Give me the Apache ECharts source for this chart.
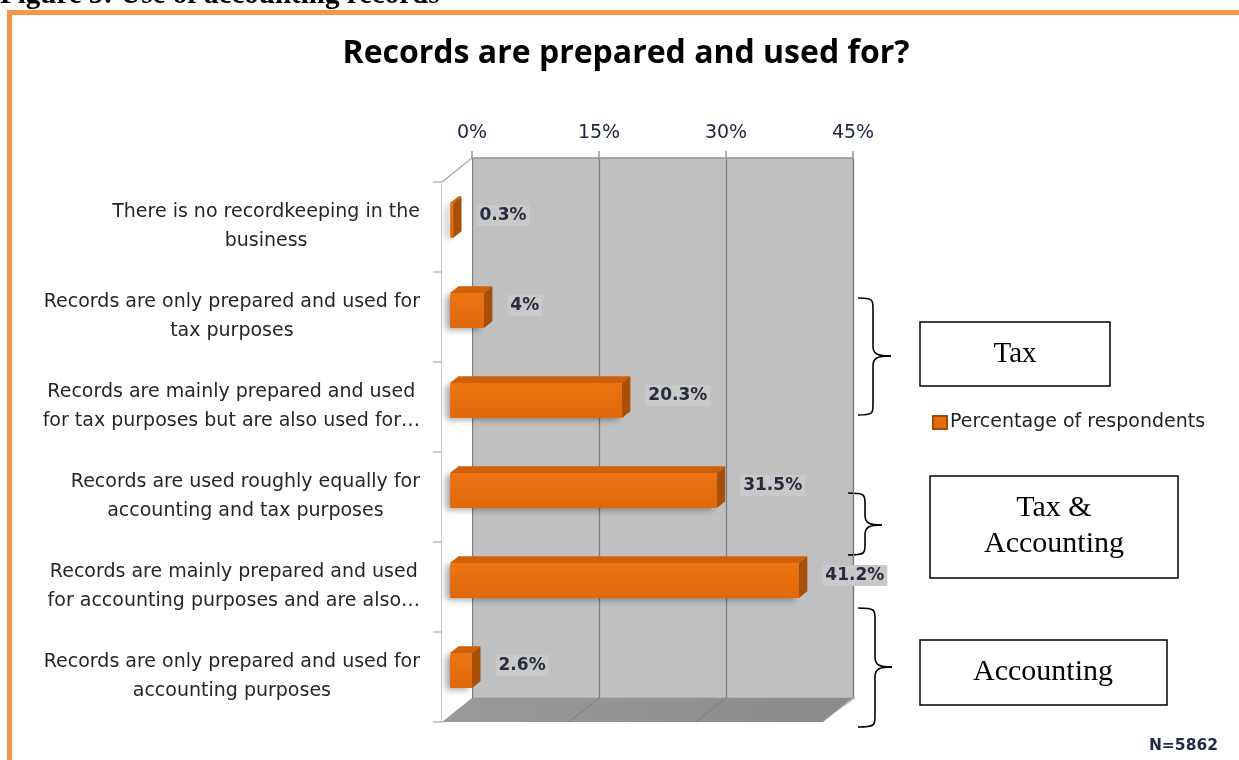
<!DOCTYPE html>
<html>
<head>
<meta charset="utf-8">
<script src="https://cdn.jsdelivr.net/npm/echarts@6/dist/echarts.min.js"></script>
<style>
html,body{margin:0;padding:0;background:#fff;}
#chart{width:1239px;height:760px;}
</style>
</head>
<body>
<div id="chart"></div>
<script>
// ---------------- data ----------------
const categories = [
  "There is no recordkeeping in the\nbusiness",
  "Records are only prepared and used for\ntax purposes",
  "Records are mainly prepared and used\nfor tax purposes but are also used for…",
  "Records are used roughly equally for\naccounting and tax purposes",
  "Records are mainly prepared and used\nfor accounting purposes and are also…",
  "Records are only prepared and used for\naccounting purposes"
];
const values = [0.3, 4, 20.3, 31.5, 41.2, 2.6];
const seriesName = "Percentage of respondents";
const axisMin = 0, axisMax = 45, axisStep = 15;
const chartTitle = "Records are prepared and used for?";
const figureCaption = "Figure 5: Use of accounting records";
const groupLabels = ["Tax", "Tax &\nAccounting", "Accounting"];
const sampleNote = "N=5862";

// ---------------- layout ----------------
const front = {left: 442, top: 182, width: 381, height: 540};
const back  = {left: 472, top: 158, width: 381, height: 540};
const DX = back.left - front.left, DY = back.top - front.top;

const catFont = '19px "DejaVu Sans"';
const measureCtx = document.createElement('canvas').getContext('2d');
function blockWidth(text) {
  measureCtx.font = catFont;
  return Math.max(...text.split('\n').map(l => measureCtx.measureText(l).width));
}
function lin(x2, y2, stops) {
  return {type: 'linear', x: 0, y: 0, x2: x2, y2: y2,
    colorStops: stops.map(s => ({offset: s[0], color: s[1]})), global: false};
}

const chart = echarts.init(document.getElementById('chart'), null, {renderer: 'canvas'});

function renderDecor(params, api) {
  const xs = [];
  for (let v = axisMin; v <= axisMax; v += axisStep) xs.push(v);
  const cs = params.coordSys;
  const L = cs.x, T = cs.y, R = cs.x + cs.width, B = cs.y + cs.height;
  const children = [];
  children.push({type: 'polygon', shape: {points: [[L, T], [L + DX, T + DY], [L + DX, B + DY], [L, B]]},
    style: {fill: '#ffffff'}});
  children.push({type: 'line', shape: {x1: L, y1: T, x2: L + DX, y2: T + DY}, style: {stroke: '#a6a6a6', lineWidth: 1.2}});
  children.push({type: 'polygon', shape: {points: [[L, B], [R, B], [R + DX, B + DY], [L + DX, B + DY]]},
    style: {fill: lin(1, 0, [[0, '#9a9a9a'], [1, '#8a8a8a']])}});
  children.push({type: 'polygon', shape: {points: [[R, B], [R + DX, B + DY], [R + DX + 3, B + DY], [R + 3, B - 3]]},
    style: {fill: '#bdbdbd'}});
  xs.forEach(v => {
    const p = api.coord([v, 0]);
    if (v > axisMin && v < axisMax) {
      children.push({type: 'line', shape: {x1: p[0], y1: B, x2: p[0] + DX, y2: B + DY}, style: {stroke: '#7c7c7c', lineWidth: 1}});
    }
  });
  return {type: 'group', children: children};
}

function renderBar(params, api) {
  const v = api.value(0), c = api.value(1);
  const p0 = api.coord([0, c]), p1 = api.coord([v, c]);
  const band = api.size([0, 1])[1];
  const h = band * 0.39;
  const fx = DX * 0.27, fy = DY * 0.27;
  const ddx = DX * 0.28, ddy = DY * 0.28;
  const x0 = p0[0] + fx, x1 = Math.max(p1[0] + fx, x0 + 3), yc = p0[1] + fy;
  const yt = yc - h / 2, yb = yc + h / 2;
  return {type: 'group', children: [
    {type: 'rect', shape: {x: x0, y: yt, width: x1 - x0, height: h, r: 1},
      style: {fill: lin(0, 1, [[0, '#ec7412'], [1, '#e0680a']]),
        shadowBlur: 6, shadowColor: 'rgba(0,0,0,0.35)', shadowOffsetX: -4, shadowOffsetY: 2}},
    {type: 'polygon', shape: {points: [[x0, yt], [x1, yt], [x1 + ddx, yt + ddy], [x0 + ddx, yt + ddy]]},
      style: {fill: '#cf6009'}},
    {type: 'polygon', shape: {points: [[x1, yt], [x1 + ddx, yt + ddy], [x1 + ddx, yb + ddy], [x1, yb]]},
      style: {fill: '#a84f08'}},
    {type: 'text', x: x1 + ddx + 15, y: yc - 5,
      style: {text: v + '%', font: 'bold 17px "DejaVu Sans"', fill: '#272b40', align: 'left', verticalAlign: 'middle',
        backgroundColor: '#c9c9c9', padding: [2, 3]}}
  ]};
}

function renderCatLabel(params, api) {
  const p = api.coord([0, api.value(1)]);
  const text = categories[params.dataIndex];
  const w = blockWidth(text);
  return {type: 'text', x: p[0] - 22 - w / 2, y: p[1],
    style: {text: text, font: catFont, fill: '#262626', align: 'center', verticalAlign: 'middle', lineHeight: 29}};
}

function brace(x0, xs, xt, y0, yt, y1) {
  const r = 10;
  const st = {fill: null, stroke: '#000', lineWidth: 1.6};
  return {type: 'group', z: 10, children: [
    {type: 'bezierCurve', shape: {x1: x0, y1: y0, cpx1: xs, cpy1: y0, cpx2: xs, cpy2: y0 + 2, x2: xs, y2: y0 + r}, style: st},
    {type: 'line', shape: {x1: xs, y1: y0 + r, x2: xs, y2: yt - r}, style: st},
    {type: 'bezierCurve', shape: {x1: xs, y1: yt - r, cpx1: xs, cpy1: yt - 2, cpx2: xs + 4, cpy2: yt, x2: xt, y2: yt}, style: st},
    {type: 'bezierCurve', shape: {x1: xt, y1: yt, cpx1: xs + 4, cpy1: yt, cpx2: xs, cpy2: yt + 2, x2: xs, y2: yt + r}, style: st},
    {type: 'line', shape: {x1: xs, y1: yt + r, x2: xs, y2: y1 - r}, style: st},
    {type: 'bezierCurve', shape: {x1: xs, y1: y1 - r, cpx1: xs, cpy1: y1 - 2, cpx2: xs, cpy2: y1, x2: x0, y2: y1}, style: st}
  ]};
}

const boxStyle = {fill: '#fff', stroke: '#000', lineWidth: 1.5};
const serif = '"Liberation Serif", "Times New Roman", serif';

const option = {
  backgroundColor: '#ffffff',
  animation: false,
  grid: [
    {left: front.left, top: front.top, width: front.width, height: front.height, show: false},
    {left: back.left, top: back.top, width: back.width, height: back.height, show: true,
      backgroundColor: '#c0c0c0', borderColor: '#a8a8a8', borderWidth: 1}
  ],
  xAxis: [
    {gridIndex: 0, type: 'value', min: axisMin, max: axisMax, interval: axisStep, show: false},
    {gridIndex: 1, type: 'value', position: 'top', min: axisMin, max: axisMax, interval: axisStep,
      axisLine: {show: true, lineStyle: {color: '#9a9a9a', width: 1.5}},
      axisTick: {show: true, length: 7, lineStyle: {color: '#9a9a9a', width: 1.5}},
      axisLabel: {formatter: '{value}%', margin: 15, fontFamily: 'DejaVu Sans', fontSize: 19, color: '#1c2440'},
      splitLine: {show: true, lineStyle: {color: '#7d7d7d', width: 1.3}}}
  ],
  yAxis: [
    {gridIndex: 0, type: 'category', inverse: true, data: categories,
      axisLine: {show: true, lineStyle: {color: '#bcbcbc', width: 1.5}},
      axisTick: {show: true, length: 9, lineStyle: {color: '#bcbcbc', width: 1.5}},
      axisLabel: {show: false}},
    {gridIndex: 1, type: 'category', inverse: true, data: categories, show: false}
  ],
  legend: {
    left: 932, top: 413, padding: 0, itemWidth: 14, itemHeight: 13, itemGap: 6,
    data: [{name: seriesName, icon: 'rect'}],
    textStyle: {fontFamily: 'DejaVu Sans', fontSize: 19, color: '#222', padding: [0, 0, 0, -2]}
  },
  series: [
    {type: 'custom', name: 'decor', xAxisIndex: 0, yAxisIndex: 0, data: [[0, 0]], renderItem: renderDecor,
      clip: false, silent: true, z: 1},
    {type: 'custom', name: 'catLabels', xAxisIndex: 0, yAxisIndex: 0,
      data: categories.map(c => [0, c]), encode: {x: 0, y: 1}, renderItem: renderCatLabel, clip: false, silent: true, z: 3},
    {type: 'custom', name: seriesName, xAxisIndex: 0, yAxisIndex: 0,
      itemStyle: {color: '#e46c0a', borderColor: '#a04a06', borderWidth: 1},
      data: values.map((v, i) => [v, categories[i]]), encode: {x: 0, y: 1}, renderItem: renderBar, clip: false, z: 4}
  ],
  graphic: [
    {type: 'text', x: 0, y: -19, style: {text: figureCaption, font: 'bold 29px ' + serif, fill: '#000', verticalAlign: 'top'}, z: 10},
    {type: 'rect', shape: {x: 9.5, y: 12.5, width: 1260, height: 800}, style: {fill: null, stroke: '#f79646', lineWidth: 5}, z: 10},
    {type: 'text', x: 626, y: 54, style: {text: chartTitle, font: 'bold 32px "Open Sans"', fill: '#000', align: 'center', verticalAlign: 'middle'}, z: 10},
    brace(858, 873, 891, 298, 356, 415),
    brace(848, 865, 882, 493, 525, 555),
    brace(858, 875, 892, 608, 667, 727),
    {type: 'rect', shape: {x: 920, y: 322, width: 190, height: 64}, style: boxStyle, z: 10},
    {type: 'text', x: 1015, y: 354, style: {text: groupLabels[0], font: '29px ' + serif, fill: '#000', align: 'center', verticalAlign: 'middle'}, z: 11},
    {type: 'rect', shape: {x: 930, y: 476, width: 248, height: 102}, style: boxStyle, z: 10},
    {type: 'text', x: 1054, y: 526, style: {text: groupLabels[1], font: '30px ' + serif, fill: '#000', align: 'center', verticalAlign: 'middle', lineHeight: 36}, z: 11},
    {type: 'rect', shape: {x: 920, y: 640, width: 247, height: 65}, style: boxStyle, z: 10},
    {type: 'text', x: 1043, y: 672, style: {text: groupLabels[2], font: '30px ' + serif, fill: '#000', align: 'center', verticalAlign: 'middle'}, z: 11},
    {type: 'text', x: 1218, y: 746, style: {text: sampleNote, font: 'bold 15.5px "DejaVu Sans"', fill: '#1f2a44', align: 'right', verticalAlign: 'middle'}, z: 10}
  ]
};
chart.setOption(option);
</script>
</body>
</html>
